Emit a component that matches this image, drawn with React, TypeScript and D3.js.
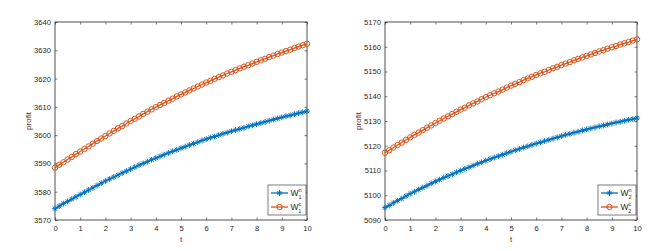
import { useRef, useEffect } from 'react';
import * as d3 from 'd3';

// sample times (61 markers, step 1/6)
const T = d3.range(0, 61).map((i) => i / 6);

const W1N = [
  3574.0, 3574.9, 3575.8, 3576.6, 3577.4, 3578.2, 3579.0,
  3579.8, 3580.6, 3581.4, 3582.2, 3583.0, 3583.8,
  3584.5, 3585.2, 3585.9, 3586.6, 3587.3, 3588.0,
  3588.7, 3589.4, 3590.0, 3590.6, 3591.3, 3591.9,
  3592.5, 3593.1, 3593.7, 3594.3, 3594.8, 3595.4,
  3595.9, 3596.5, 3597.0, 3597.5, 3598.1, 3598.6,
  3599.1, 3599.5, 3600.0, 3600.5, 3600.9, 3601.4,
  3601.8, 3602.2, 3602.6, 3603.1, 3603.5, 3603.9,
  3604.3, 3604.7, 3605.1, 3605.5, 3605.9, 3606.3,
  3606.7, 3607.0, 3607.4, 3607.8, 3608.1, 3608.5,
];

const W1C = [
  3588.5, 3589.5, 3590.4, 3591.4, 3592.3, 3593.3, 3594.2,
  3595.1, 3596.0, 3597.0, 3597.9, 3598.8, 3599.7,
  3600.6, 3601.5, 3602.4, 3603.2, 3604.1, 3605.0,
  3605.8, 3606.6, 3607.5, 3608.3, 3609.1, 3609.9,
  3610.7, 3611.4, 3612.2, 3612.9, 3613.7, 3614.4,
  3615.1, 3615.8, 3616.5, 3617.2, 3617.9, 3618.6,
  3619.2, 3619.9, 3620.5, 3621.1, 3621.8, 3622.4,
  3623.0, 3623.6, 3624.2, 3624.7, 3625.3, 3625.9,
  3626.5, 3627.0, 3627.6, 3628.1, 3628.7, 3629.2,
  3629.7, 3630.2, 3630.8, 3631.3, 3631.8, 3632.3,
];

const W2N = [
  5095.0, 5095.9, 5096.9, 5097.8, 5098.7, 5099.7, 5100.6,
  5101.4, 5102.3, 5103.1, 5103.9, 5104.8, 5105.6,
  5106.3, 5107.1, 5107.8, 5108.5, 5109.3, 5110.0,
  5110.7, 5111.3, 5112.0, 5112.7, 5113.3, 5114.0,
  5114.6, 5115.2, 5115.8, 5116.4, 5117.0, 5117.6,
  5118.2, 5118.7, 5119.3, 5119.8, 5120.4, 5120.9,
  5121.4, 5121.9, 5122.4, 5122.9, 5123.4, 5123.9,
  5124.4, 5124.8, 5125.3, 5125.7, 5126.2, 5126.6,
  5127.0, 5127.4, 5127.8, 5128.2, 5128.6, 5129.0,
  5129.4, 5129.7, 5130.1, 5130.5, 5130.8, 5131.2,
];

const W2C = [
  5117.2, 5118.2, 5119.3, 5120.3, 5121.3, 5122.4, 5123.4,
  5124.4, 5125.3, 5126.3, 5127.3, 5128.2, 5129.2,
  5130.1, 5131.0, 5131.9, 5132.8, 5133.7, 5134.6,
  5135.4, 5136.3, 5137.1, 5137.9, 5138.8, 5139.6,
  5140.4, 5141.2, 5141.9, 5142.7, 5143.5, 5144.3,
  5145.0, 5145.7, 5146.5, 5147.2, 5147.9, 5148.6,
  5149.3, 5149.9, 5150.6, 5151.3, 5151.9, 5152.6,
  5153.2, 5153.8, 5154.5, 5155.1, 5155.7, 5156.3,
  5156.9, 5157.5, 5158.1, 5158.6, 5159.2, 5159.8,
  5160.3, 5160.9, 5161.4, 5161.9, 5162.5, 5163.0,
];

const X_TICKS = [0, 1, 2, 3, 4, 5, 6, 7, 8, 9, 10];
const Y1_TICKS = [3570, 3580, 3590, 3600, 3610, 3620, 3630, 3640];
const Y2_TICKS = [5090, 5100, 5110, 5120, 5130, 5140, 5150, 5160, 5170];

const BLUE = '#0072bd';
const ORANGE = '#d95319';
const AXIS = '#262626';
const LABEL = '#5c2a1e';
const FONT = 'Liberation Sans, Arial, sans-serif';

type PanelProps = {
  left: number;
  yTicks: number[];
  seriesN: number[];
  seriesC: number[];
  sub: string;
};

const starPath = (s: number) =>
  `M${-s},0L${s},0M0,${-s}L0,${s}M${-s * 0.7},${-s * 0.7}L${s * 0.7},${s * 0.7}M${-s * 0.7},${s * 0.7}L${s * 0.7},${-s * 0.7}`;

const Panel = ({ left, yTicks, seriesN, seriesC, sub }: PanelProps) => {
  const ref = useRef<SVGGElement>(null);
  useEffect(() => {
    if (!ref.current) return;
    const w = 252;
    const h = 198;
    const top = 22;
    const g = d3.select(ref.current);
    g.selectAll('*').remove();
    g.attr('transform', `translate(${left},${top})`);

    const x = d3.scaleLinear().domain([0, 10]).range([0, w]);
    const y = d3
      .scaleLinear()
      .domain([yTicks[0], yTicks[yTicks.length - 1]])
      .range([h, 0]);

    g.append('rect').attr('width', w).attr('height', h).attr('fill', '#fff');

    const tick = 2.5;
    const styleAxis = (sel: any) => {
      sel.select('.domain').remove();
      sel.selectAll('line').attr('stroke', AXIS).attr('stroke-width', 0.6);
      sel
        .selectAll('text')
        .attr('fill', AXIS)
        .style('font-family', FONT)
        .style('font-size', '7.6px');
    };

    g.append('g')
      .attr('transform', `translate(0,${h})`)
      .call(d3.axisBottom(x).tickValues(X_TICKS).tickSizeInner(-tick).tickSizeOuter(0).tickPadding(6))
      .call(styleAxis);
    g.append('g')
      .call(d3.axisTop(x).tickValues(X_TICKS).tickSizeInner(-tick).tickSizeOuter(0).tickFormat(() => ''))
      .call(styleAxis);
    g.append('g')
      .call(d3.axisLeft(y).tickValues(yTicks).tickSizeInner(-tick).tickSizeOuter(0).tickPadding(4).tickFormat(d3.format('d')))
      .call(styleAxis);
    g.append('g')
      .attr('transform', `translate(${w},0)`)
      .call(d3.axisRight(y).tickValues(yTicks).tickSizeInner(-tick).tickSizeOuter(0).tickFormat(() => ''))
      .call(styleAxis);

    g.append('rect')
      .attr('width', w)
      .attr('height', h)
      .attr('fill', 'none')
      .attr('stroke', AXIS)
      .attr('stroke-width', 0.8);

    const line = d3
      .line<number>()
      .x((_, i) => x(T[i]))
      .y((d) => y(d));

    g.append('path')
      .datum(seriesN)
      .attr('d', line)
      .attr('fill', 'none')
      .attr('stroke', BLUE)
      .attr('stroke-width', 1.3);
    g.append('g')
      .selectAll('path')
      .data(seriesN)
      .join('path')
      .attr('transform', (d, i) => `translate(${x(T[i])},${y(d)})`)
      .attr('d', starPath(2.9))
      .attr('stroke', BLUE)
      .attr('stroke-width', 1)
      .attr('fill', 'none');

    g.append('path')
      .datum(seriesC)
      .attr('d', line)
      .attr('fill', 'none')
      .attr('stroke', ORANGE)
      .attr('stroke-width', 1.3);
    g.append('g')
      .selectAll('circle')
      .data(seriesC)
      .join('circle')
      .attr('cx', (_, i) => x(T[i]))
      .attr('cy', (d) => y(d))
      .attr('r', 2.7)
      .attr('fill', 'none')
      .attr('stroke', ORANGE)
      .attr('stroke-width', 1);

    // axis labels
    g.append('text')
      .attr('x', w / 2)
      .attr('y', h + 22)
      .attr('text-anchor', 'middle')
      .attr('fill', LABEL)
      .style('font-family', FONT)
      .style('font-size', '8px')
      .text('t');
    g.append('text')
      .attr('transform', `translate(${-24},${h / 2}) rotate(-90)`)
      .attr('text-anchor', 'middle')
      .attr('fill', LABEL)
      .style('font-family', FONT)
      .style('font-size', '8px')
      .text('profit');

    // legend
    const lg = g.append('g').attr('transform', `translate(${w - 39},${h - 35})`);
    lg.append('rect')
      .attr('width', 38)
      .attr('height', 30)
      .attr('fill', '#fff')
      .attr('stroke', AXIS)
      .attr('stroke-width', 0.6);
    const entries = [
      { color: BLUE, sup: 'n', star: true },
      { color: ORANGE, sup: 'c', star: false },
    ];
    entries.forEach((e, i) => {
      const ey = 8 + i * 14;
      lg.append('line')
        .attr('x1', 3)
        .attr('x2', 20)
        .attr('y1', ey)
        .attr('y2', ey)
        .attr('stroke', e.color)
        .attr('stroke-width', 1.3);
      if (e.star) {
        lg.append('path')
          .attr('transform', `translate(11.5,${ey})`)
          .attr('d', starPath(2.9))
          .attr('stroke', e.color)
          .attr('stroke-width', 1)
          .attr('fill', 'none');
      } else {
        lg.append('circle')
          .attr('cx', 11.5)
          .attr('cy', ey)
          .attr('r', 2.7)
          .attr('fill', 'none')
          .attr('stroke', e.color)
          .attr('stroke-width', 1);
      }
      const t = lg
        .append('text')
        .attr('x', 22.5)
        .attr('y', ey + 3)
        .attr('fill', AXIS)
        .style('font-family', FONT)
        .style('font-size', '8.5px');
      t.append('tspan').text('W');
      t.append('tspan').attr('dy', -4).style('font-size', '5.5px').text(e.sup);
      t.append('tspan').attr('dx', -3).attr('dy', 7).style('font-size', '5.5px').text(sub);
    });
  }, [left, yTicks, seriesN, seriesC, sub]);

  return <g ref={ref} />;
};

export default function App() {
  return (
    <svg
      width={669}
      height={251}
      style={{ position: 'absolute', left: 0, top: 0, background: '#fff' }}
    >
      <rect width={669} height={251} fill="#fff" />
      <Panel left={55} yTicks={Y1_TICKS} seriesN={W1N} seriesC={W1C} sub="1" />
      <Panel left={385} yTicks={Y2_TICKS} seriesN={W2N} seriesC={W2C} sub="2" />
    </svg>
  );
}
